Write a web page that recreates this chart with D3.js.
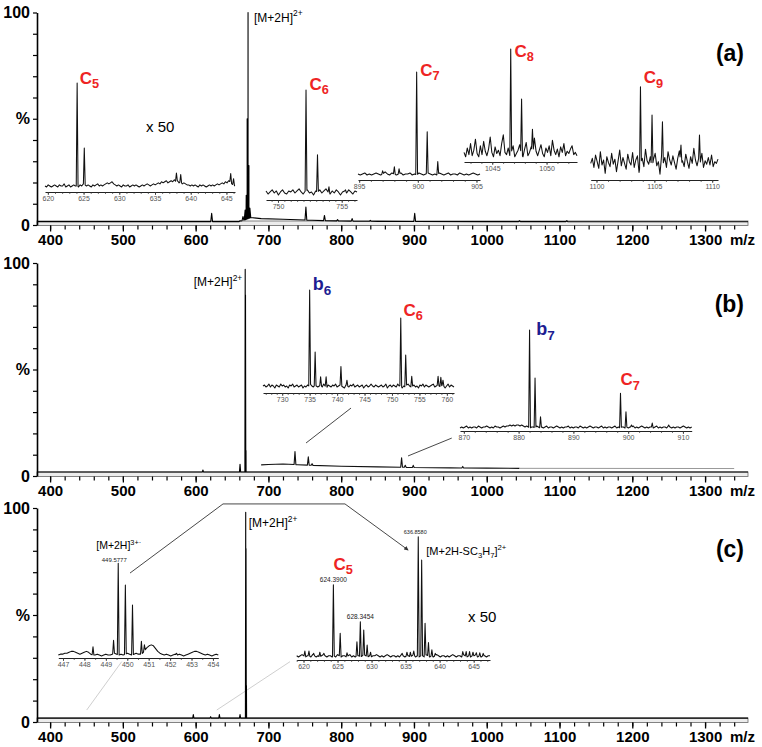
<!DOCTYPE html>
<html><head><meta charset="utf-8">
<script src="https://cdn.jsdelivr.net/npm/d3@7/dist/d3.min.js"></script>
<style>body{margin:0;background:#fff}svg{display:block}text{font-family:"Liberation Sans",Arial,sans-serif}</style>
</head><body><svg id="chart" width="762" height="747"></svg>
<script>
// ---------------- DATA ----------------
const X_DOMAIN = [382, 1359];
const MAJOR_MZ = [400, 500, 600, 700, 800, 900, 1000, 1100, 1200, 1300];
const Y_TICKS = [0, 10, 20, 30, 40, 50, 60, 70, 80, 90, 100];

// panel (a) main spectrum
const aBaseline = [[382,1.6],[660,1.6],[668,2.5],[676,3.5],[690,3.0],[720,2.7],[760,2.2],[800,1.9],[850,1.7],[1000,1.6],[1359,1.5]];
const aPeaks = [[599,1.5],[622,5.5],[648,1.2],[661,2],[665,4],[668,7],[669.5,14],[670.8,50],[672,100],[673.2,28],[674.5,8],[751.5,8.5],[777,4.5],[795,2.5],[815,3],[840,2.2],[901,5.5],[1045,2],[1110,2]];
// panel (b) main spectrum
const bBaseline = [[382,1.9],[1359,1.9]];
const bPeaks = [[610,2.8],[661,5.5],[668.1,97],[668.5,85],[669.2,12]];
const bTrace = [[690,5.2],[700,5.4],[720,5.6],[740,5.3],[760,5.0],[800,4.6],[850,4.3],[900,4.0],[950,3.8],[1000,3.7],[1045,3.6]];
const bTracePeaks = [[736.5,11.5],[754.8,9],[760,5.8],[883,8.5],[888,5],[899,5],[967,4.5]];
const bTail = [[1045,3.6],[1340,3.5]];
// panel (c) main spectrum
const cBaseline = [[382,1.8],[1359,1.8]];
const cPeaks = [[425,1.5],[470,1.2],[540,1.5],[560,1.3],[585,1.5],[596.8,3.5],[620.6,2.5],[632.6,3.5],[645,1.5],[661,3.5],[668.8,98],[669.2,81],[669.8,17],[700,1.2],[745,1.5]];

// inset (a) C5, x50
const a1Range = [619.6, 646.2];
const a1Ticks = [620, 625, 630, 635, 640, 645];
const a1Peaks = [[624.1,100],[625.1,37.5],[638.0,13.5],[638.6,12],[645.6,13],[646.0,8]];
const a1Noise = [1,0,2,1,0,1,2,1,0,2,1,1,3,0,1,2,0,1,2,1,1,0,2,1,3,2,1,2,1,0,
  2,1,2,3,1,2,1,2,3,4,3,4,5,3,2,1,2,1,0,2,1,1,2,0,1,2,1,2,1,0,
  1,2,1,2,3,2,1,2,3,2,3,4,3,5,4,5,6,4,5,6,5,7,5,6,4,5,3,4,3,2,
  2,1,2,1,2,1,0,2,1,2,1,0,1,2,1,2,1,2,3,2,3,4,3,5,4,6,5,3,2,1];
// inset (a) C6
const a2Range = [749.06, 756.2];
const a2Ticks = [750, 755];
const a2Peaks = [[752.2,100],[753.1,37],[754.0,6],[755.3,3]];
const a2Noise = [2,-1,1,3,0,2,-2,1,3,0,-1,2,1,3,0,2,4,1,-1,2,3,0,1,-2,2,1,3,0,2,4,1,-1,2,0,3,1,-2,1,2,0,3,1,-1,2,1];
// inset (a) C7
const a3Range = [894.9, 905.3];
const a3Ticks = [895, 900, 905];
const a3Peaks = [[897.0,4],[898.0,8],[898.4,6],[899.9,100],[900.8,42],[901.7,13]];
const a3Noise = [1,0,1,2,0,1,0,1,2,1,0,1,3,1,0,2,1,0,1,2,0,1,1,2,0,1,0,2,1,0,1,2,1,0,1,0,2,1,0,1,2,0,1,1,0,2,1,0,1,0,1,2,1,0,1];
// inset (a) C8
const a4Range = [1042.4, 1052.8];
const a4Ticks = [1045, 1050];
const a4Peaks = [[1046.7,100],[1047.7,54.5],[1048.7,27]];
const a4Noise = [6,2,10,4,14,3,8,18,5,2,12,4,16,7,3,9,20,6,2,11,5,8,3,14,22,6,4,10,3,7,12,2,5,8,13,4,2,9,15,3,6,11,4,19,7,3,8,13,5,2,10,6,12,3,17,8,4,9,2,11,6,14,3,7,5,9,12,4,6,3];
// inset (a) C9
const a5Range = [1099.5, 1110.5];
const a5Ticks = [1100, 1105, 1110];
const a5Peaks = [[1103.8,100],[1104.8,66],[1105.7,58],[1107.3,30],[1108.9,42]];
const a5Noise = [8,14,3,18,10,2,22,6,12,-4,16,9,4,20,7,13,-2,11,24,5,15,8,1,19,10,6,21,3,12,17,-3,9,14,4,25,11,7,16,2,13,20,5,10,-5,18,8,15,3,22,12,6,17,9,1,14,23,7,11,4,19,10,2,16,8,26,12,5,14,9,20,3,11,7,15,6,18,4,10,8,13];
// inset (b) b6 / C6
const b1Range = [726.5, 761.3];
const b1Ticks = [730, 735, 740, 745, 750, 755, 760];
const b1Peaks = [[735.0,100],[736.0,36],[737.0,10.5],[738.0,10.5],[740.7,21],[741.8,7],[751.6,71],[752.5,33],[753.6,11],[758.4,11],[758.9,10],[759.3,7]];
const b1Noise = [1,2,0,1,3,0,2,1,-1,2,1,0,3,1,2,0,1,-1,2,1,3,0,1,2,0,1,2,-1,1,0,
  2,1,3,1,0,2,1,0,1,2,0,3,1,-1,2,1,0,2,1,3,0,1,2,1,0,-1,2,1,0,2,
  1,3,0,1,2,0,1,2,-1,1,2,0,1,3,1,0,2,1,0,1,2,0,1,3,-1,1,2,0,2,1,
  0,3,1,2,-1,1,0,2,3,1,0,1,2,0,1,-1,2,1,3,0,2,1,0,1,2,3,0,1,2,1,
  0,2,1,-1,1,3,0,2,1,0];
// inset (b) b7 / C7
const b2Range = [869.3, 911.6];
const b2Ticks = [870, 880, 890, 900, 910];
const b2Peaks = [[882.0,100],[883.0,51],[884.0,11.5],[898.6,35.4],[899.6,16.6],[900.6,3],[904.4,5],[907.4,3]];
const b2Noise = [0,1,0,1,2,0,1,0,1,1,0,2,1,0,1,1,2,1,0,1,0,2,1,1,0,1,2,1,2,2,
  3,2,3,2,3,3,2,3,2,1,2,1,0,1,1,0,2,1,0,1,0,1,2,0,1,1,0,1,2,1,
  0,1,0,1,1,2,0,1,0,1,1,0,2,1,0,1,0,1,2,1,0,1,1,0,1,2,0,1,0,1,
  1,0,1,2,0,1,0,1,1,0,1,0,1,1,2,0,1,0,1,2,1,0,1,0,1,1,0,1,2,0,
  1,0,1,1,0,2,1,0,1,0,1,1,0,1,2,1,0,1,0,1];
// inset (c) [M+2H]3+.
const c1Range = [446.78, 454.25];
const c1Ticks = [447, 448, 449, 450, 451, 452, 453, 454];
const c1Peaks = [[448.4,10],[449.36,17],[449.578,100],[449.911,76.6],[450.244,55],[450.66,15.8],[450.8,12],[452.3,3]];
const c1Noise = [1,2,2,3,3,4,5,5,4,3,2,3,4,5,4,2,1,1,2,1,0,1,2,1,1,2,3,2,1,2,1,2,3,2,1,2,3,2,2,3,6,9,11,12,11,8,5,3,2,1,2,1,0,1,2,1,2,1,0,1,2,3,4,5,5,4,3,2,1,2,1,0,1,2,1];
// inset (c) C5 and [M+2H-SC3H7]2+
const c2Range = [619.0, 647.4];
const c2Ticks = [620, 625, 630, 635, 640, 645];
const c2Peaks = [[620.2,5],[620.8,5],[621.5,3],[622.4,4],[623.0,3],[624.39,60],[625.39,19.7],[626.39,3.5],[627.85,12.7],[628.35,29.3],[628.85,22.4],[629.35,10],[629.85,4],[634.5,3],[635.2,4],[635.7,4],[636.2,5],[636.86,100],[637.36,80.6],[637.86,28],[638.36,12],[638.86,6],[639.36,3],[643.4,4.5],[643.9,4.5],[644.4,4.5],[644.9,4],[645.4,3.5],[645.9,3.5],[646.4,3]];
const c2Noise = [1,0,1,2,1,0,1,1,0,2,1,0,1,0,1,2,1,0,1,1,0,1,0,2,1,0,1,1,0,1,
  2,0,1,0,1,1,0,1,2,1,0,1,0,1,1,2,1,0,1,0,1,2,1,0,1,1,0,1,0,2,
  1,0,1,1,0,1,2,0,1,0,1,1,0,2,1,0,1,0,1,2,1,0,1,1,0,1,0,1,2,1,
  0,1,1,0,2,1,0,1,0,1,1,2,0,1,0,1,1,0,1,1];

// ---------------- DRAWING ----------------
const svg = d3.select("#chart");
const RED = "#ee2424", BLUE = "#1d1d92";
const xMain = d3.scaleLinear().domain(X_DOMAIN).range([37, 748]);
const panels = {
  a: {top: 12.5, y0: 225},
  b: {top: 263, y0: 476},
  c: {top: 508, y0: 722}
};
Object.values(panels).forEach(p => { p.y = d3.scaleLinear().domain([0, 100]).range([p.y0, p.top]); });

function interpAt(base, m) {
  if (m <= base[0][0]) return base[0][1];
  for (let i = 0; i < base.length - 1; i++) {
    const [m0, v0] = base[i], [m1, v1] = base[i + 1];
    if (m >= m0 && m <= m1) return v0 + (v1 - v0) * (m - m0) / (m1 - m0);
  }
  return base[base.length - 1][1];
}
function buildPoints(base, peaks, w) {
  const pts = base.filter(([m]) => !peaks.some(([pm]) => Math.abs(m - pm) < w));
  peaks.forEach(([pm, h]) => {
    pts.push([pm - w, interpAt(base, pm - w)], [pm, Math.max(h, interpAt(base, pm))], [pm + w, interpAt(base, pm + w)]);
  });
  pts.sort((a, b) => a[0] - b[0]);
  return pts;
}

function rich(g, x, y, parts, size, opts = {}) {
  const t = g.append("text").attr("x", x).attr("y", y).attr("font-size", size)
    .attr("fill", opts.fill || "#000").attr("font-weight", opts.weight || "normal")
    .attr("text-anchor", opts.anchor || "start");
  let off = 0;
  parts.forEach(p => {
    const target = p.sup ? -size * 0.42 : p.sub ? size * (opts.subShift || 0.28) : 0;
    const ts = t.append("tspan").attr("dy", target - off).text(p.t);
    if (p.sup || p.sub) ts.attr("font-size", size * (opts.smallScale || 0.7));
    off = target;
  });
  return t;
}
function ionLabel(g, x, y, letter, num, color, size) {
  rich(g, x, y, [{t: letter}, {t: num, sub: true}], size, {fill: color, weight: "bold", subShift: 0.25, smallScale: 0.75});
}

function drawFrame(key, letter) {
  const p = panels[key];
  const g = svg.append("g");
  g.append("rect").attr("x", 37).attr("y", p.y(0) - 4).attr("width", 748 - 37).attr("height", 4.5)
    .attr("fill", "#ececec").attr("stroke", "#666").attr("stroke-width", 0.8);
  g.append("g").attr("transform", `translate(0,${p.y0 + 0.5})`)
    .call(d3.axisBottom(xMain).tickValues(d3.range(400, 1341, 20)).tickSize(4).tickFormat(""))
    .call(a => a.select(".domain").remove())
    .call(a => a.selectAll("line").attr("stroke", "#000").attr("stroke-width", 1.2));
  g.append("g").attr("transform", `translate(0,${p.y0 + 0.5})`)
    .call(d3.axisBottom(xMain).tickValues(MAJOR_MZ).tickSize(6).tickPadding(2.5).tickFormat(d3.format("d")))
    .call(a => a.select(".domain").remove())
    .call(a => a.selectAll("line").attr("stroke", "#000").attr("stroke-width", 1.3))
    .call(a => a.selectAll("text").attr("font-size", 15).attr("font-weight", "bold").attr("fill", "#000")
      .attr("font-family", '"Liberation Sans",Arial,sans-serif'));
  g.append("text").attr("x", 742.5).attr("y", p.y0 + 19.5).attr("text-anchor", "middle")
    .attr("font-size", 15).attr("font-weight", "bold").text("m/z");
  g.append("g").attr("transform", "translate(37,0)")
    .call(d3.axisLeft(p.y).tickValues(Y_TICKS).tickSize(4).tickSizeOuter(0).tickPadding(3)
      .tickFormat(d => d === 0 ? "0" : d === 100 ? "100" : d === 50 ? "%" : ""))
    .call(a => a.select(".domain").attr("stroke", "#000").attr("stroke-width", 1.6))
    .call(a => a.selectAll("line").attr("stroke", "#000").attr("stroke-width", 1.2))
    .call(a => a.selectAll("text").attr("font-size", 16).attr("font-weight", "bold").attr("fill", "#000")
      .attr("font-family", '"Liberation Sans",Arial,sans-serif'));
  g.append("text").attr("x", 744).attr("y", p.top + 48.5).attr("text-anchor", "end")
    .attr("font-size", 23).attr("font-weight", "bold").text(letter);
  return g;
}

function drawSpectrum(g, key, base, peaks, wPx, color, width) {
  const p = panels[key];
  const w = wPx / (xMain(1) - xMain(0));
  const pts = buildPoints(base, peaks, w);
  g.append("path").attr("d", d3.line().x(d => xMain(d[0])).y(d => p.y(d[1]))(pts))
    .attr("fill", "none").attr("stroke", color || "#000").attr("stroke-width", width || 1.1).attr("stroke-linejoin", "round");
}

function drawInset(cfg, range, ticks, noise, peaks) {
  const g = svg.append("g");
  const xs = d3.scaleLinear().domain(range).range([cfg.x0, cfg.x1]);
  const ys = d3.scaleLinear().domain([0, 100]).range([cfg.y0, cfg.y100]);
  const step = (range[1] - range[0]) / (noise.length - 1);
  const base = noise.map((v, i) => [range[0] + i * step, v]);
  const w = 0.9 / (xs(1) - xs(0));
  const pts = buildPoints(base, peaks, w);
  g.append("path").attr("d", d3.line().x(d => xs(d[0])).y(d => ys(d[1]))(pts))
    .attr("fill", "none").attr("stroke", "#111").attr("stroke-width", 1.05).attr("stroke-linejoin", "round");
  const minor = d3.range(Math.ceil(range[0] / cfg.minor) * cfg.minor, range[1], cfg.minor);
  g.append("g").attr("transform", `translate(0,${cfg.axisY})`)
    .call(d3.axisBottom(xs).tickValues(minor).tickSize(2).tickFormat("").tickSizeOuter(0))
    .call(a => a.select(".domain").attr("stroke", "#222").attr("stroke-width", 1))
    .call(a => a.selectAll("line").attr("stroke", "#333").attr("stroke-width", 0.7));
  g.append("g").attr("transform", `translate(0,${cfg.axisY})`)
    .call(d3.axisBottom(xs).tickValues(ticks).tickSize(3).tickPadding(1.5).tickFormat(d3.format("d")))
    .call(a => a.select(".domain").remove())
    .call(a => a.selectAll("line").attr("stroke", "#333").attr("stroke-width", 0.8))
    .call(a => a.selectAll("text").attr("font-size", 7).attr("fill", "#555")
      .attr("font-family", '"Liberation Sans",Arial,sans-serif'));
  return {g, xs, ys};
}

svg.append("defs").append("marker").attr("id", "arr").attr("viewBox", "0 0 6 6").attr("refX", 5).attr("refY", 3)
  .attr("markerWidth", 5).attr("markerHeight", 5).attr("orient", "auto")
  .append("path").attr("d", "M0,0L6,3L0,6z").attr("fill", "#333");

// ---- panel (a)
const gA = drawFrame("a", "(a)");
drawSpectrum(gA, "a", aBaseline, aPeaks, 0.9, "#000", 1.1);
rich(gA, xMain(672) + 6, panels.a.y(100) + 9, [{t: "[M+2H]"}, {t: "2+", sup: true}], 12);
gA.append("text").attr("x", 146).attr("y", 132).attr("font-size", 15).text("x 50");

const iA1 = drawInset({x0: 45, x1: 235, axisY: 192, y0: 187, y100: 83, minor: 1}, a1Range, a1Ticks, a1Noise, a1Peaks);
ionLabel(iA1.g, iA1.xs(624.1) + 2.5, iA1.ys(100) + 0.5, "C", "5", RED, 17);
const iA2 = drawInset({x0: 266, x1: 357, axisY: 200, y0: 193, y100: 90, minor: 0.5}, a2Range, a2Ticks, a2Noise, a2Peaks);
ionLabel(iA2.g, iA2.xs(752.2) + 3.5, iA2.ys(100), "C", "6", RED, 17);
const iA3 = drawInset({x0: 358, x1: 480, axisY: 180, y0: 175, y100: 72, minor: 1}, a3Range, a3Ticks, a3Noise, a3Peaks);
ionLabel(iA3.g, iA3.xs(899.9) + 3.6, iA3.ys(100) + 4, "C", "7", RED, 17);
const iA4 = drawInset({x0: 464, x1: 577, axisY: 162, y0: 159, y100: 49, minor: 1}, a4Range, a4Ticks, a4Noise, a4Peaks);
ionLabel(iA4.g, iA4.xs(1046.7) + 3.7, iA4.ys(100) + 7.7, "C", "8", RED, 17);
const iA5 = drawInset({x0: 590.7, x1: 718, axisY: 180, y0: 170, y100: 86.7, minor: 1}, a5Range, a5Ticks, a5Noise, a5Peaks);
ionLabel(iA5.g, iA5.xs(1103.8) + 3.3, iA5.ys(100) - 3.4, "C", "9", RED, 17);

// ---- panel (b)
const gB = drawFrame("b", "(b)");
drawSpectrum(gB, "b", bBaseline, bPeaks, 0.6, "#000", 1.1);
drawSpectrum(gB, "b", bTrace, bTracePeaks, 0.9, "#111", 1.1);
gB.append("path").attr("d", d3.line().x(d => xMain(d[0])).y(d => panels.b.y(d[1]))(bTail))
  .attr("fill", "none").attr("stroke", "#999").attr("stroke-width", 1);
rich(gB, xMain(668.1) - 3, panels.b.y(100) + 23, [{t: "[M+2H]"}, {t: "2+", sup: true}], 12, {anchor: "end"});
const iB1 = drawInset({x0: 263, x1: 454, axisY: 393, y0: 387, y100: 290, minor: 1}, b1Range, b1Ticks, b1Noise, b1Peaks);
ionLabel(iB1.g, iB1.xs(735.0) + 3, iB1.ys(100), "b", "6", BLUE, 18);
ionLabel(iB1.g, iB1.xs(751.6) + 2.7, iB1.ys(71) - 2, "C", "6", RED, 17);
const iB2 = drawInset({x0: 460, x1: 691.7, axisY: 431, y0: 428, y100: 330, minor: 2}, b2Range, b2Ticks, b2Noise, b2Peaks);
ionLabel(iB2.g, iB2.xs(882.0) + 6.7, iB2.ys(100) + 5, "b", "7", BLUE, 18);
ionLabel(iB2.g, iB2.xs(898.6), iB2.ys(35.4) - 8, "C", "7", RED, 17);
[[[813.5, 31.9], [751.7, 15.5]], [[951.9, 17.8], [891.8, 9.4]]].forEach(seg => {
  gB.append("path").attr("d", d3.line().x(d => xMain(d[0])).y(d => panels.b.y(d[1]))(seg))
    .attr("stroke", "#333").attr("stroke-width", 0.9).attr("fill", "none");
});

// ---- panel (c)
const gC = drawFrame("c", "(c)");
[[[450.3, 5.6], [498.4, 28.2]], [[629, 5.6], [729.7, 28.2]]].forEach(seg => {
  gC.append("path").attr("d", d3.line().x(d => xMain(d[0])).y(d => panels.c.y(d[1]))(seg))
    .attr("stroke", "#cfcfcf").attr("stroke-width", 1).attr("fill", "none");
});
drawSpectrum(gC, "c", cBaseline, cPeaks, 0.6, "#000", 1.1);
rich(gC, xMain(668.8) + 3, panels.c.y(100) + 19, [{t: "[M+2H]"}, {t: "2+", sup: true}], 12);
gC.append("path").attr("d", d3.line().x(d => xMain(d[0])).y(d => panels.c.y(d[1]))([[509.8, 69.6], [637.6, 101.9], [805.2, 101.9], [891.8, 80.4]]))
  .attr("stroke", "#333").attr("stroke-width", 0.9).attr("fill", "none").attr("marker-end", "url(#arr)");
gC.append("text").attr("x", 468).attr("y", 622).attr("font-size", 15).text("x 50");

const iC1 = drawInset({x0: 58.3, x1: 218.3, axisY: 658, y0: 656, y100: 563.3, minor: 0.5}, c1Range, c1Ticks, c1Noise, c1Peaks);
iC1.g.append("text").attr("x", iC1.xs(449.578) - 4).attr("y", iC1.ys(100) - 1.5).attr("text-anchor", "middle")
  .attr("font-size", 6).attr("fill", "#222").text("449.5777");
rich(iC1.g, iC1.xs(449.578) - 22, iC1.ys(100) - 14, [{t: "[M+2H]"}, {t: "3+·", sup: true}], 10.5);

const iC2 = drawInset({x0: 296.7, x1: 490, axisY: 660, y0: 657, y100: 536.7, minor: 1}, c2Range, c2Ticks, c2Noise, c2Peaks);
ionLabel(iC2.g, iC2.xs(624.39), iC2.ys(60) - 15, "C", "5", RED, 17);
[[624.39, 60, "624.3900", 0, 3, 6.5], [628.35, 29.3, "628.3454", 0, 2.5, 6.5], [636.86, 100, "636.8580", -3, 3, 5.5]].forEach(([m, v, s, dx, dy, fs]) => {
  iC2.g.append("text").attr("x", iC2.xs(m) + dx).attr("y", iC2.ys(v) - dy).attr("text-anchor", "middle")
    .attr("font-size", fs).attr("fill", "#222").text(s);
});
rich(iC2.g, iC2.xs(636.86) + 8, iC2.ys(100) + 18, [{t: "[M+2H-SC"}, {t: "3", sub: true}, {t: "H"}, {t: "7", sub: true}, {t: "]"}, {t: "2+", sup: true}], 11);
</script></body></html>
